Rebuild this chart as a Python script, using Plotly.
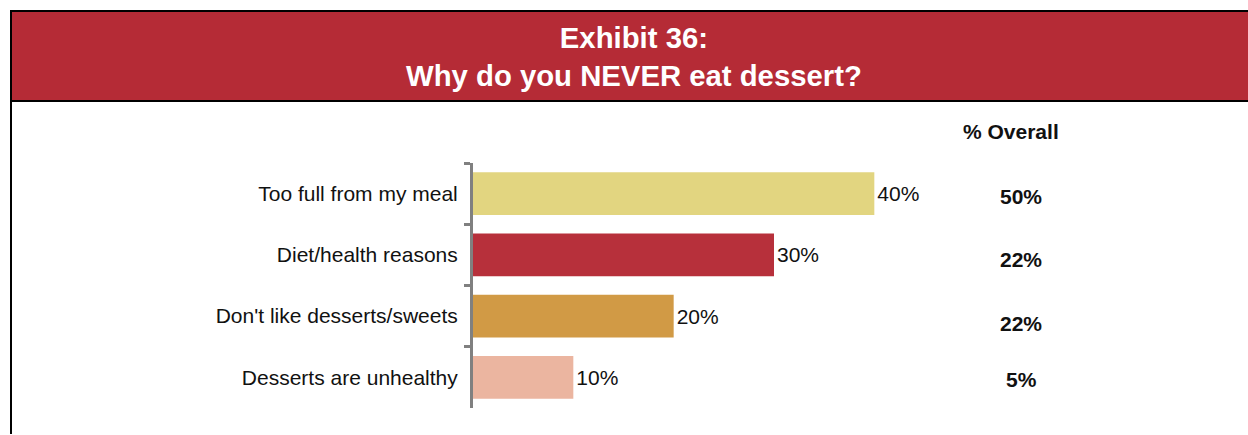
import plotly.graph_objects as go

# Survey answers
categories = [
    "Too full from my meal",
    "Diet/health reasons",
    "Don't like desserts/sweets",
    "Desserts are unhealthy",
]
never_pct = [40, 30, 20, 10]          # bars
overall_pct = [50, 22, 22, 5]         # "% Overall" column
bar_colors = ["#E2D580", "#B7303B", "#D19A45", "#EBB5A0"]

title_lines = ["Exhibit 36:", "Why do you NEVER eat dessert?"]
overall_header = "% Overall"

W, H = 1248, 435
L, T, B = 473, 163, 27
PLOT_W = 602
R = W - L - PLOT_W
PLOT_H = H - T - B

FONT = "Arial, Liberation Sans, sans-serif"
HEADER_RED = "#B52B36"


def px_x(p):
    return (p - L) / PLOT_W


def px_y(p):
    return (H - B - p) / PLOT_H


fig = go.Figure(
    go.Bar(
        x=never_pct,
        y=categories,
        orientation="h",
        marker=dict(color=bar_colors, line=dict(width=0)),
        texttemplate="%{x}%",
        textposition="outside",
        textfont=dict(family=FONT, size=21, color="#111111"),
        cliponaxis=False,
        hoverinfo="skip",
    )
)

# Header band with the two-line title
fig.add_shape(type="rect", xref="paper", yref="paper",
              x0=px_x(11), x1=px_x(1249), y0=px_y(101), y1=px_y(11),
              fillcolor=HEADER_RED, line=dict(color="black", width=2), layer="below")
# Left frame line below the header
fig.add_shape(type="line", xref="paper", yref="paper",
              x0=px_x(11), x1=px_x(11), y0=px_y(101), y1=px_y(434),
              line=dict(color="black", width=2))

fig.add_annotation(xref="paper", yref="paper", x=px_x(634), y=px_y(56),
                   text="<br>".join(title_lines), showarrow=False,
                   xanchor="center", yanchor="middle", align="center",
                   font=dict(family=FONT, size=29.3, color="white", weight="bold"))

# "% Overall" column
fig.add_annotation(xref="paper", yref="paper", x=px_x(1011), y=px_y(131),
                   text=f"<b>{overall_header}</b>", showarrow=False,
                   xanchor="center", yanchor="middle",
                   font=dict(family=FONT, size=21, color="#111111"))
row_shift = [-3, -5, -7, -2]
for cat, val, dy in zip(categories, overall_pct, row_shift):
    fig.add_annotation(xref="paper", yref="y", x=px_x(1021), y=cat, yshift=dy,
                       text=f"<b>{val}%</b>", showarrow=False,
                       xanchor="center", yanchor="middle",
                       font=dict(family=FONT, size=21, color="#111111"))

fig.update_layout(
    width=W, height=H,
    margin=dict(l=L, r=R, t=T, b=B, pad=0),
    paper_bgcolor="white", plot_bgcolor="rgba(0,0,0,0)",
    bargap=0.3,
    showlegend=False,
    xaxis=dict(range=[0, 60], visible=False, fixedrange=True),
    yaxis=dict(
        autorange="reversed",
        showline=True, linecolor="#808080", linewidth=3,
        ticks="outside", tickson="boundaries", ticklen=6, tickwidth=3,
        tickcolor="#808080",
        ticklabelstandoff=8,
        tickfont=dict(family=FONT, size=21, color="#111111"),
        showgrid=False, zeroline=False, fixedrange=True,
    ),
)

fig.write_html("out.html")
